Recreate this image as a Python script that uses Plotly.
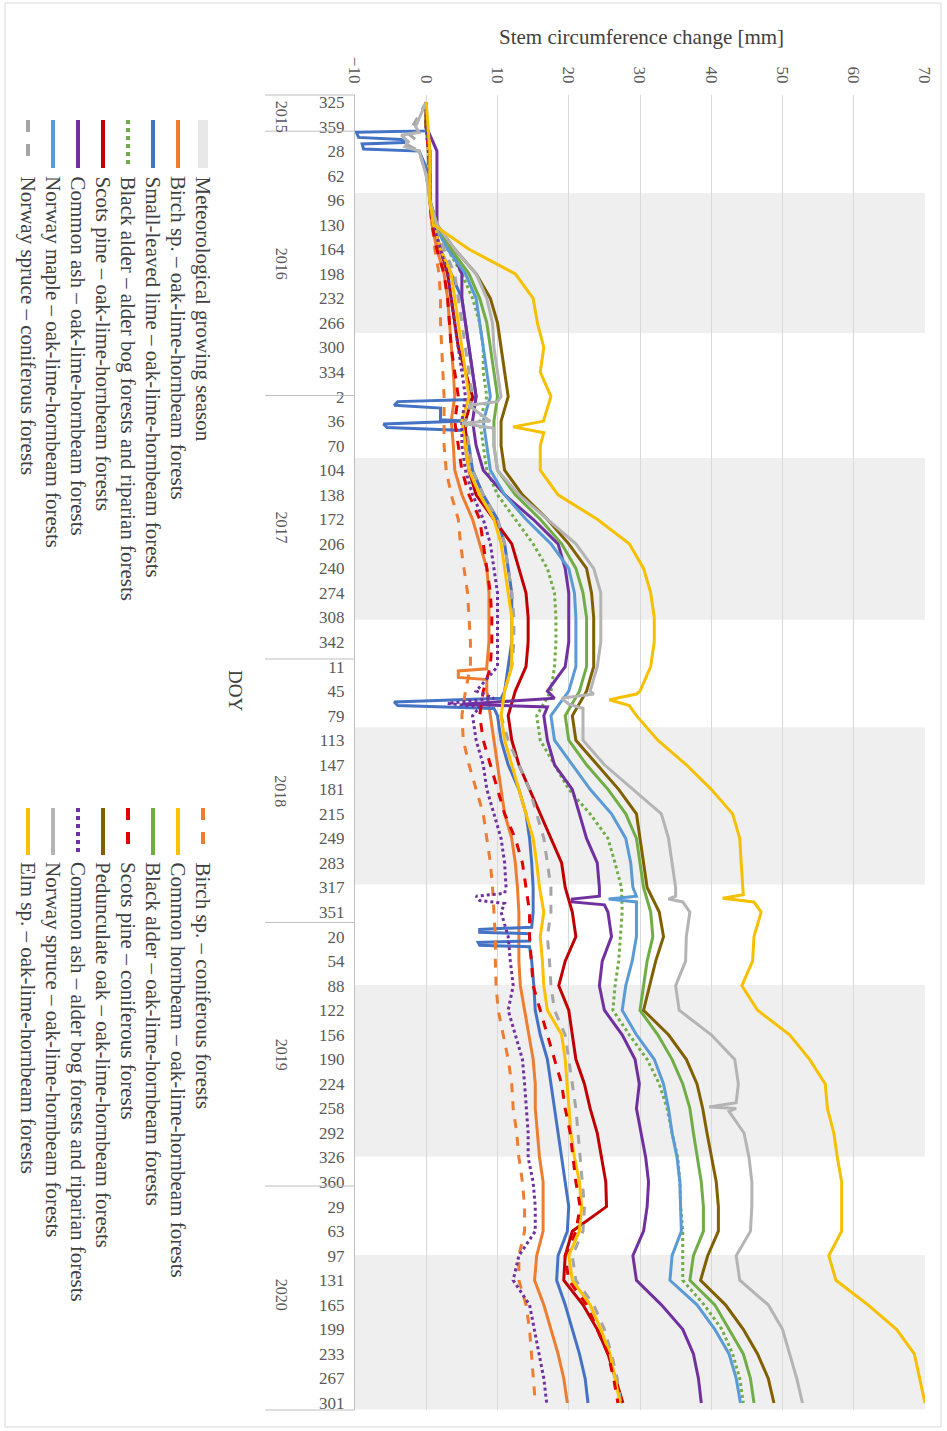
import datetime as dt
import plotly.graph_objects as go

# ---------------- DATA ----------------
doy_labels = ["325", "359", "28", "62", "96", "130", "164", "198", "232", "266", "300", "334",
              "2", "36", "70", "104", "138", "172", "206", "240", "274", "308", "342",
              "11", "45", "79", "113", "147", "181", "215", "249", "283", "317", "351",
              "20", "54", "88", "122", "156", "190", "224", "258", "292", "326", "360",
              "29", "63", "97", "131", "165", "199", "233", "267", "301"]
tick_step_days = 34
years = [2015, 2016, 2017, 2018, 2019, 2020]

# meteorological growing season (DOY start / end)
gs_year = [2016, 2017, 2018, 2019, 2020]
gs_start_doy = [86, 87, 95, 87, 96]
gs_end_doy = [280, 311, 313, 325, 310]

# values at every DOY tick (54 ticks)
birch_olh = [0, 0, 0.3, 0.5, 0.5, 0.8, 1.5, 2.5, 3, 3.3, 3.5, 3.8,
             4, 3.5, 3.8, 4, 5, 6.5, 7.5, 8.5, 8.8, 8.8, 8.8,
             8.5, 8.5, 9, 9.5, 10, 10.5, 11, 12, 12.5, 12.8, 13,
             13, 13, 13.2, 13.8, 14.5, 15, 15.3, 15.3, 15.6, 15.9, 16.4,
             16.4, 16.4, 15.5, 15.2, 16.5, 17.5, 18.5, 19.3, 19.8]
lime_olh = [0, 0, -1, 0.5, 0.5, 1, 2, 3.5, 5, 5.5, 6, 6.5,
            7, 5.5, 6, 6.5, 8, 10, 11, 11.5, 12, 12, 12,
            11.5, 11, 10, 10.5, 11.5, 13, 14, 14.5, 14.8, 15, 15,
            14.5, 14.8, 15.1, 15.3, 16, 17, 17.5, 18, 18.5, 19, 19.5,
            20, 19.8, 18.5, 18.3, 19.5, 20.5, 21.5, 22.3, 22.7]
alder_bog = [0, 0, 0.3, 0.5, 0.5, 1.2, 3, 5, 6.5, 7.5, 8, 8,
             8.5, 7.5, 8, 8.5, 10, 12.5, 15, 17, 18, 18.2, 18.2,
             18, 17.5, 15.5, 16, 18, 20, 23, 25.5, 26.5, 27.4, 27.5,
             27.3, 27, 26.5, 26.2, 28.5, 31, 32.7, 33.8, 34.5, 35.3, 35.6,
             35.7, 36, 36, 36, 39, 41.5, 43, 44, 44.5]
pine_olh = [0, 0, 0.5, 0.5, 0.5, 1, 2, 3, 3.5, 4, 4.5, 5.5,
            6.5, 5.5, 5.5, 6, 7, 9.5, 12, 13, 14, 14.3, 14.3,
            14, 12.5, 11.5, 12, 13, 14.5, 16, 17.5, 19, 19.5, 20.5,
            21, 19.5, 18.6, 20, 20.5, 21, 22.2, 23, 24, 24.6, 25.2,
            25.3, 20.5, 19.5, 19.3, 22, 24, 25.5, 26.5, 27.6]
ash_olh = [0, 0, 1.5, 1.5, 1.5, 1.5, 3.5, 5, 5, 5.5, 6, 6.5,
           7, 6.5, 7, 8, 11, 15, 18.5, 19.5, 20, 20, 20,
           19.5, 17, 16.5, 17, 18, 20.5, 21.5, 22.5, 24, 24.3, 25.5,
           26, 24.7, 24.3, 25, 27.5, 29.3, 29.9, 29.5, 30.2, 30.8, 31.2,
           31, 30.5, 29, 29.5, 33, 36, 37.5, 38.2, 38.6]
maple_olh = [0, 0, 0.3, 0.5, 0.5, 1.2, 3, 5.5, 7, 7.5, 8, 8.5,
             9, 8, 8.5, 9, 11, 14, 17.5, 20, 20.8, 21, 21,
             21, 20, 17.5, 18, 20.5, 23, 26, 28, 28.7, 29, 29.5,
             29.5, 28.9, 28, 27.5, 29.5, 32, 33.3, 34, 34.5, 35.2, 35.6,
             35.7, 35.8, 34.5, 34.2, 38, 40.5, 42.5, 43.5, 44.1]
spruce_con = [0, -2, -1, 0, 0.5, 1.2, 2.5, 4, 4.5, 5, 5.5, 6,
              6.5, 5.5, 6, 6.5, 8, 10, 11, 11.5, 12, 12.3, 12.3,
              12, 11, 10.5, 11.5, 13, 14.5, 15.5, 16.5, 17, 17.5, 17.5,
              17, 17.3, 17.5, 18, 19.5, 20, 20.5, 21, 21.3, 21.6, 22,
              22.2, 22, 20.5, 21, 23.5, 25, 26, 26.8, 27.3]
birch_con = [0, 0, 0.3, 0.5, 0.5, 0.8, 1.2, 1.8, 2, 2, 2.2, 2.3,
             2.5, 2.5, 2.5, 2.8, 3.5, 4.5, 4.8, 5.3, 5.8, 6, 6.2,
             6.2, 5.5, 5, 5.2, 6, 7, 8, 8.5, 9, 9.3, 9.5,
             9.7, 9.7, 9.8, 10.1, 10.8, 11.5, 12, 12.2, 12.7, 13, 13.5,
             13.8, 13.8, 13, 13, 14, 14.5, 14.8, 15, 15.3]
hornbeam_olh = [0, 0, 0.3, 0.5, 0.5, 1, 2, 3.5, 4, 4.5, 5, 5.5,
                6, 5, 5.5, 6, 7.5, 9.5, 10.5, 11, 11.5, 12, 12,
                12, 11, 10.5, 11, 12, 13, 14, 15, 15.5, 15.9, 16.5,
                16, 16.3, 16.5, 17, 19, 19.5, 19.8, 20, 20.3, 20.8, 21.5,
                21.8, 21.5, 20, 20.5, 23, 24.5, 25.8, 26.5, 27.2]
alder_olh = [0, 0, 0.5, 0.5, 0.5, 1.5, 3.5, 6, 7.5, 8.5, 9, 9.5,
             10, 9.5, 9.5, 10, 12.5, 16, 19, 21, 22, 22.5, 22.5,
             22.5, 21.5, 19.5, 20, 22.5, 25.5, 28, 29.5, 30, 30.5, 31.5,
             31.8, 31, 30.5, 30, 32.5, 34.5, 36, 37, 37.5, 38, 38.6,
             38.9, 38.9, 37.5, 37, 40.5, 42.5, 44.5, 45.5, 46]
pine_con = [0, 0, 0.3, 0.5, 0.5, 0.8, 1.5, 2.5, 3, 3.3, 3.5, 4,
            4.5, 4, 4.5, 5, 6, 7.5, 8, 8.5, 9, 9.2, 9.2,
            9, 8, 7.5, 8, 9, 10, 11, 12.5, 13.5, 14, 14.5,
            14.5, 14.8, 15, 16, 17, 18, 19, 19.5, 20.2, 20.6, 21,
            21.6, 21, 19.5, 20, 22.5, 24, 25.5, 26.3, 26.9]
oak_olh = [0, 0, 0.5, 0.5, 0.5, 1.5, 4, 7, 9, 10, 10.5, 11,
           11.5, 10.5, 10.5, 11, 13.5, 17, 20, 22.5, 23.2, 23.5, 23.5,
           23.5, 22.5, 20.5, 21, 24, 27, 29.5, 30, 30.5, 31, 32.7,
           33.3, 32.2, 31.3, 30.5, 34, 36.5, 38, 38.8, 39.4, 40.1, 40.7,
           41, 41, 39.5, 38.5, 42, 44.5, 46.5, 48, 48.8]
ash_bog = [0, 0, 0.3, 0.5, 0.5, 1, 2, 3, 3.5, 4, 4.5, 5,
           5.5, 5, 5, 5.5, 6.5, 8, 9, 9.5, 10, 10, 10,
           10, 7, 6.5, 7, 8, 8.5, 9.5, 10.5, 11, 11.2, 10.5,
           11.5, 11.8, 12.2, 11.5, 12.5, 13.5, 13.8, 14, 14.3, 14.3, 15,
           15.3, 15.3, 13, 12.2, 14.5, 15.2, 15.9, 16.5, 16.9]
spruce_olh = [0, -1.5, -1, 0, 0.5, 1.5, 4, 7, 8.5, 9.3, 9.5, 10,
              10.5, 9, 9.5, 10, 13, 17, 21, 23.5, 24.5, 24.5, 24.5,
              24, 23, 22, 22, 25, 29, 33, 34, 34.5, 35, 37,
              36.5, 36.4, 35, 35.5, 40, 43.3, 43.8, 43.5, 44.6, 45.3, 45.7,
              45.7, 45.5, 43.5, 44, 48, 50, 51, 52, 52.8]
elm_olh = [0, 0.3, 0.5, 0.5, 0.5, 1.0, 6, 12.5, 15, 15.6, 16.5, 16,
           17.5, 16.5, 16, 16, 18.5, 24, 28.5, 30.5, 31.5, 32, 32,
           31.5, 30, 29.5, 32.5, 36.5, 40, 43, 44, 44.2, 44.5, 47,
           46, 45.8, 44.3, 46.5, 51, 53.8, 56, 56.3, 57.2, 57.7, 58.3,
           58.3, 58.3, 56.5, 57.5, 62, 66, 68.5, 69.3, 70]

# short-lived excursions: (day index from DOY 325/2015, value)
lime_spikes = [(40, 0), (42, -9.8), (49, -9.5), (52, -3.5), (56, -3), (58, -9), (65, -8.8),
               (412, 6.5), (415, -4), (420, -4.5), (424, 2), (440, 2), (446, -6), (451, -5.5), (455, 5.5),
               (826, 10.5), (831, -4.5), (836, -4), (840, 9.5),
               (1143, 14.8), (1146, 7.5), (1150, 7.5), (1152, 14.5), (1162, 14.5), (1164, 7.3),
               (1168, 7.5), (1170, 14.5)]
spruce_olh_spikes = [(42, -1), (46, -3.5), (55, -2.5), (62, -3),
                     (415, 10), (420, 6), (428, 7), (445, 5), (452, 9.5),
                     (820, 23.5), (826, 19), (834, 20), (840, 22),
                     (1100, 35), (1104, 34), (1108, 36), (1386, 43.5), (1392, 39.7), (1398, 42.5)]
spruce_con_spikes = [(44, -2.5), (52, -1.5), (60, -2.5)]
maple_spikes = [(1100, 29.5), (1104, 25.6), (1108, 29.5)]
ash_olh_spikes = [(826, 18), (834, 5), (838, 17), (1100, 24.3), (1104, 20.5), (1108, 20.5), (1112, 25)]
ash_bog_spikes = [(826, 9.5), (833, 3), (838, 7.5), (1096, 11), (1100, 7), (1106, 7.5), (1110, 11)]
birch_olh_spikes = [(785, 8.5), (788, 4.5), (797, 4.5), (800, 8.5)]
elm_spikes = [(440, 16.5), (450, 12.2), (458, 16.5), (820, 29.5), (828, 25.7), (836, 28.5),
              (1098, 44.5), (1103, 41.6), (1108, 46)]

# ---------------- STYLE / SERIES TABLE ----------------
series = [
    ("Birch sp. – oak-lime-hornbeam forests", birch_olh, birch_olh_spikes, "#ED7D31", "solid"),
    ("Small-leaved lime – oak-lime-hornbeam forests", lime_olh, lime_spikes, "#4472C4", "solid"),
    ("Black alder – alder bog forests and riparian forests", alder_bog, [], "#70AD47", "dot"),
    ("Scots pine – oak-lime-hornbeam forests", pine_olh, [], "#C00000", "solid"),
    ("Common ash – oak-lime-hornbeam forests", ash_olh, ash_olh_spikes, "#7030A0", "solid"),
    ("Norway maple – oak-lime-hornbeam forests", maple_olh, maple_spikes, "#5B9BD5", "solid"),
    ("Norway spruce – coniferous forests", spruce_con, spruce_con_spikes, "#A5A5A5", "dash"),
    ("Birch sp. – coniferous forests", birch_con, [], "#ED7D31", "dash"),
    ("Common hornbeam – oak-lime-hornbeam forests", hornbeam_olh, [], "#FFC000", "solid"),
    ("Black alder – oak-lime-hornbeam forests", alder_olh, [], "#70AD47", "solid"),
    ("Scots pine – coniferous forests", pine_con, [], "#E00000", "dash"),
    ("Pedunculate oak – oak-lime-hornbeam forests", oak_olh, [], "#806000", "solid"),
    ("Common ash – alder bog forests and riparian forests", ash_bog, ash_bog_spikes, "#7030A0", "dot"),
    ("Norway spruce – oak-lime-hornbeam forests", spruce_olh, spruce_olh_spikes, "#B4B4B4", "solid"),
    ("Elm sp. – oak-lime-hornbeam forests", elm_olh, elm_spikes, "#F5C000", "solid"),
]

START = dt.date(2015, 11, 21)  # DOY 325 of 2015


def day_index(year, doy):
    return (dt.date(year, 1, 1) + dt.timedelta(days=doy - 1) - START).days


tick_idx = [k * tick_step_days for k in range(len(doy_labels))]

# plot-area pixel geometry
W, H = 947, 1431
PL, PR, PT, PB = 355, 925, 95, 1410
FONT = "Liberation Serif"
TXT = "#404040"
TICK = "#595959"


def pxx(x):
    return (x - PL) / (PR - PL)


def pxy(y):
    return (PB - y) / (PB - PT)


fig = go.Figure()

for name, vals, spikes, color, dash in series:
    pts = sorted([(i, v) for i, v in zip(tick_idx, vals)] + list(spikes))
    fig.add_trace(go.Scatter(
        x=[p[1] for p in pts], y=[p[0] for p in pts], mode="lines", name=name,
        line=dict(color=color, width=3, dash=dash), showlegend=False))

shapes = []
# growing season bands
for yr, s, e in zip(gs_year, gs_start_doy, gs_end_doy):
    shapes.append(dict(type="rect", xref="x", yref="y", x0=-10, x1=70,
                       y0=day_index(yr, s), y1=day_index(yr, e),
                       fillcolor="#EFEFEF", line=dict(width=0), layer="below"))

# year separators on the category axis
for b in [day_index(y, 1) - 0.5 for y in years[1:]]:
    shapes.append(dict(type="line", xref="paper", yref="y", x0=pxx(265), x1=0, y0=b, y1=b,
                       line=dict(color="#BFBFBF", width=1)))
for yy in (PT, PB):
    shapes.append(dict(type="line", xref="paper", yref="paper", x0=pxx(265), x1=0,
                       y0=pxy(yy), y1=pxy(yy), line=dict(color="#BFBFBF", width=1)))
# outer frame
shapes.append(dict(type="rect", xref="paper", yref="paper", x0=pxx(5), x1=pxx(941),
                   y0=pxy(1427), y1=pxy(3), line=dict(color="#D9D9D9", width=1)))

annotations = []
# year labels
edges = [0] + [day_index(y, 1) for y in years[1:]] + [tick_idx[-1]]
for i, yr in enumerate(years):
    mid = (edges[i] + edges[i + 1]) / 2
    annotations.append(dict(text=str(yr), x=pxx(281), y=mid, xref="paper", yref="y",
                            xanchor="center", yanchor="middle",
                            showarrow=False, textangle=90, font=dict(family=FONT, size=16, color=TICK)))
annotations.append(dict(text="DOY", x=pxx(236), y=pxy(690), xref="paper", yref="paper",
                        xanchor="center", yanchor="middle",
                        showarrow=False, textangle=90, font=dict(family=FONT, size=19, color=TXT)))
annotations.append(dict(text="Stem circumference change [mm]", x=pxx(641), y=pxy(37),
                        xref="paper", yref="paper", xanchor="center", yanchor="middle",
                        showarrow=False, font=dict(family=FONT, size=21, color=TXT)))

# custom rotated legend
legend_cols = [
    (["Meteorological growing season"] + [s[0] for s in series[:7]],
     [None] + series[:7], 120, 168, 174),
    ([s[0] for s in series[7:]], series[7:], 808, 855, 860),
]
col_x = [203, 178, 153, 128, 103, 78, 53, 28]
for names, sers, sy0, sy1, ty in legend_cols:
    for j, nm in enumerate(names):
        x = col_x[j]
        s = sers[j]
        if s is None:
            shapes.append(dict(type="line", xref="paper", yref="paper", x0=pxx(x), x1=pxx(x),
                               y0=pxy(sy0), y1=pxy(sy1), line=dict(color="#E8E8E8", width=10)))
        else:
            shapes.append(dict(type="line", xref="paper", yref="paper", x0=pxx(x), x1=pxx(x),
                               y0=pxy(sy0), y1=pxy(sy1), line=dict(color=s[3], width=4, dash=s[4])))
        annotations.append(dict(text=nm, x=pxx(x), y=pxy(ty), xref="paper", yref="paper",
                                xanchor="center", yanchor="top", showarrow=False, textangle=90,
                                font=dict(family=FONT, size=21, color=TXT)))

fig.update_layout(
    width=W, height=H, margin=dict(l=PL, r=W - PR, t=PT, b=H - PB, autoexpand=False),
    paper_bgcolor="white", plot_bgcolor="white",
    shapes=shapes, annotations=annotations, showlegend=False,
    xaxis=dict(range=[-10, 70], dtick=10, side="top", showgrid=True, gridcolor="#D9D9D9",
               gridwidth=1, zeroline=False, showline=False, tickangle=90, ticks="",
               ticklabelstandoff=8,
               tickfont=dict(family=FONT, size=17, color=TICK)),
    yaxis=dict(range=[1811.7, -9.7], tickvals=tick_idx, ticktext=doy_labels, showgrid=False,
               zeroline=False, showline=True, linecolor="#BFBFBF", ticks="",
               ticklabelstandoff=6,
               tickfont=dict(family=FONT, size=17, color=TICK)),
)

fig.write_html("out.html", config={"displayModeBar": False},
               post_script="document.body.style.margin='0';")
